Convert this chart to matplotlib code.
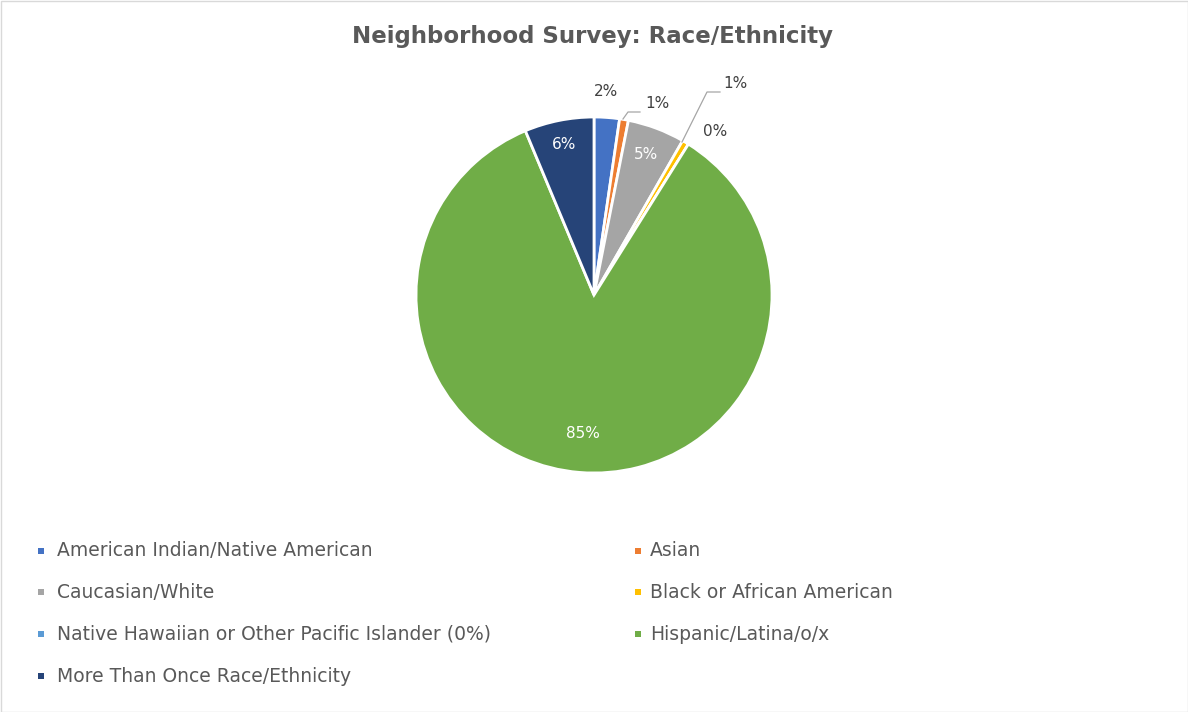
import matplotlib
matplotlib.use("Agg")
import matplotlib.pyplot as plt
from matplotlib.patches import Rectangle
import numpy as np

categories = ["American Indian/Native American", "Asian", "Caucasian/White",
              "Black or African American",
              "Native Hawaiian or Other Pacific Islander (0%)",
              "Hispanic/Latina/o/x", "More Than Once Race/Ethnicity"]
values = [2.3, 0.8, 5.2, 0.6, 0.0, 84.8, 6.3]
labels = ["2%", "1%", "5%", "1%", "0%", "85%", "6%"]
colors = ["#4472C4", "#ED7D31", "#A5A5A5", "#FFC000", "#5B9BD5", "#70AD47", "#264478"]

W, H = 1188, 712
fig = plt.figure(figsize=(W / 100, H / 100), dpi=100)
plt.rcParams['font.family'] = ['DejaVu Sans']
TXT = "#595959"

cx, cy, R = 594, 295, 178
ax = fig.add_axes([(cx - R) / W, (H - cy - R) / H, 2 * R / W, 2 * R / H])
wedges, _ = ax.pie(values, colors=colors, startangle=90, counterclock=False,
                   radius=1.0, wedgeprops=dict(edgecolor="white", linewidth=2))
ax.set_xlim(-1, 1)
ax.set_ylim(-1, 1)
ax.set_aspect("equal")
ax.axis("off")
ax.set_clip_on(False)

def pd(px, py):
    return ((px - cx) / R, (cy - py) / R)

# inside labels (white)
inside = {2: 0.84, 5: 0.78, 6: 0.86}
for i, r in inside.items():
    w = wedges[i]
    ang = np.deg2rad((w.theta1 + w.theta2) / 2)
    ax.text(r * np.cos(ang), r * np.sin(ang), labels[i], color="white",
            ha="center", va="center", fontsize=11)

# outside labels
lead = "#A6A6A6"
DL = "#404040"
x, y = pd(606, 92)
ax.text(x, y, labels[0], color=DL, ha="center", va="center", fontsize=11)
# Asian
x, y = pd(657, 103)
ax.text(x, y, labels[1], color=DL, ha="center", va="center", fontsize=11)
ax.plot(*zip(pd(623, 119), pd(628, 112), pd(640, 112)), color=lead, lw=0.9, clip_on=False)
# Black
x, y = pd(735, 83)
ax.text(x, y, labels[3], color=DL, ha="center", va="center", fontsize=11)
ax.plot(*zip(pd(682, 142), pd(707, 92), pd(720, 92)), color=lead, lw=0.9, clip_on=False)
# Native Hawaiian 0%
x, y = pd(715, 132)
ax.text(x, y, labels[4], color=DL, ha="center", va="center", fontsize=11)

# title
fig.text(593 / W, 1 - 37 / H, "Neighborhood Survey: Race/Ethnicity", ha="center",
         va="center", fontsize=16.5, fontweight="bold", color=TXT)

# legend (manual, two columns)
cols = [(41, 57), (638, 650)]
rows = [551, 592, 634, 676]
for i, (name, c) in enumerate(zip(categories, colors)):
    mx, tx = cols[i % 2]
    yy = rows[i // 2]
    s = 6
    fig.add_artist(Rectangle(((mx - s / 2) / W, 1 - (yy + s / 2) / H), s / W, s / H,
                             transform=fig.transFigure, facecolor=c, edgecolor="none"))
    fig.text(tx / W, 1 - yy / H, name, ha="left", va="center", fontsize=13.5, color=TXT)

# chart border
fig.add_artist(Rectangle((0.5 / W, 0.5 / H), 1 - 1 / W, 1 - 1 / H, transform=fig.transFigure,
                         facecolor="none", edgecolor="#D9D9D9", lw=1))

fig.savefig("out.png", dpi=100, facecolor="white")
